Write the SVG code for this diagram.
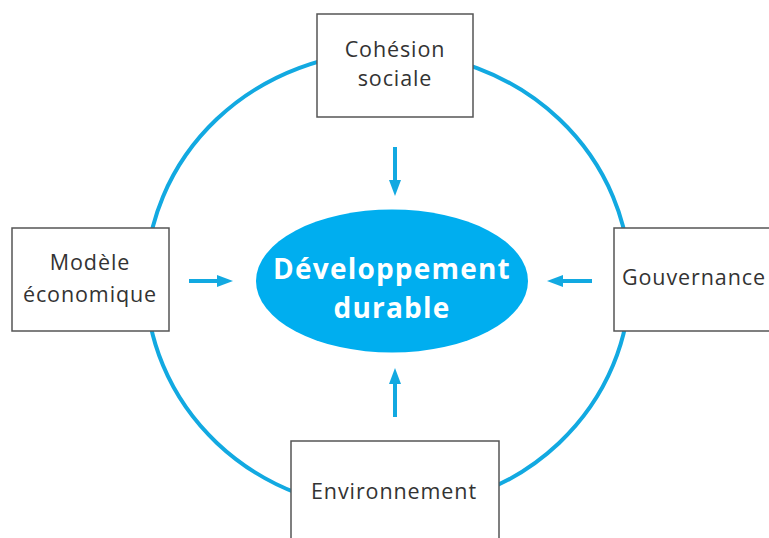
<svg xmlns="http://www.w3.org/2000/svg" width="769" height="538" viewBox="0 0 769 538">
<defs>
<style>
.box{fill:#fff;stroke:#555;stroke-width:1.5}
.lbl{font-family:"Open Sans","Liberation Sans",sans-serif;font-size:21.5px;letter-spacing:0.9px;fill:#333;text-anchor:middle}
.ring{fill:none;stroke:#12a9e1;stroke-width:4}
.arr{stroke:#12a9e1;stroke-width:4;fill:none}
.hd{fill:#12a9e1}
.core{font-family:"Open Sans","Liberation Sans",sans-serif;font-size:28px;font-weight:bold;letter-spacing:1.2px;fill:#fff;text-anchor:middle}
</style>
</defs>
<rect width="769" height="538" fill="#fff"/>
<g id="connectors">
<ellipse class="ring" cx="388" cy="281" rx="242" ry="229"/>
<line class="arr" x1="395" y1="147" x2="395" y2="182"/>
<polygon class="hd" points="389,180 401,180 395,196"/>
<line class="arr" x1="395" y1="417" x2="395" y2="382"/>
<polygon class="hd" points="389,384 401,384 395,368"/>
<line class="arr" x1="189" y1="281" x2="219" y2="281"/>
<polygon class="hd" points="217,275 217,287 233,281"/>
<line class="arr" x1="592" y1="281" x2="561" y2="281"/>
<polygon class="hd" points="563,275 563,287 547,281"/>
</g>
<g id="cohesion">
<rect class="box" x="317" y="14" width="156" height="103"/>
<text class="lbl" x="395" y="57">Cohésion</text>
<text class="lbl" x="395" y="86">sociale</text>
</g>
<g id="modele">
<rect class="box" x="12" y="228" width="157" height="103"/>
<text class="lbl" x="90" y="270">Modèle</text>
<text class="lbl" x="90" y="302">économique</text>
</g>
<g id="gouvernance">
<rect class="box" x="614" y="228" width="170" height="103"/>
<text class="lbl" x="622" y="285" style="text-anchor:start">Gouvernance</text>
</g>
<g id="environnement">
<rect class="box" x="291" y="441" width="208" height="110"/>
<text class="lbl" x="394" y="499">Environnement</text>
</g>
<g id="developpement">
<ellipse cx="392" cy="281" rx="136" ry="71.5" fill="#00aeef"/>
<text class="core" x="392" y="279">Développement</text>
<text class="core" x="392" y="318">durable</text>
</g>
</svg>
